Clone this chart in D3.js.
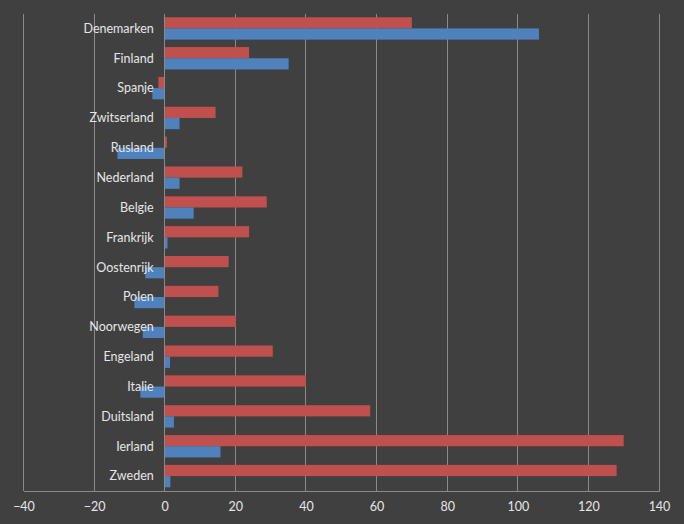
<!DOCTYPE html>
<html>
<head>
<meta charset="utf-8">
<script src="https://cdn.jsdelivr.net/npm/d3@7"></script>
<style>
  html, body { margin: 0; padding: 0; background: #404040; overflow: hidden; }
  #chart { width: 684px; height: 524px; }
  #chart svg { display: block; }
</style>
</head>
<body>
<div id="chart"></div>
<script>
// Landen, van boven naar beneden
const landen = ['Denemarken', 'Finland', 'Spanje', 'Zwitserland', 'Rusland', 'Nederland', 'Belgie',
    'Frankrijk', 'Oostenrijk', 'Polen', 'Noorwegen', 'Engeland', 'Italie', 'Duitsland', 'Ierland', 'Zweden'];
// Rode reeks (boven) en blauwe reeks (onder)
const reeksRood = [70, 23.9, -1.8, 14.4, 0.6, 22, 28.9, 23.9, 18.1, 15.2, 20.2, 30.6, 40, 58.2, 130, 128];
const reeksBlauw = [106, 35.1, -3.5, 4.2, -13.4, 4.2, 8.2, 0.8, -5.5, -8.6, -6.2, 1.5, -6.9, 2.6, 15.8, 1.6];
const xTicks = [-40, -20, 0, 20, 40, 60, 80, 100, 120, 140];

const width = 684, height = 524;
const margin = { top: 13.5, right: 25, bottom: 33, left: 23.5 };
const innerWidth = width - margin.left - margin.right;
const innerHeight = height - margin.top - margin.bottom;

const svg = d3.select('#chart')
    .append('svg')
    .attr('width', width)
    .attr('height', height);

svg.append('rect')
    .attr('width', width)
    .attr('height', height)
    .attr('fill', '#404040');

const g = svg.append('g')
    .attr('transform', `translate(${margin.left},${margin.top})`);

// Schalen
const x = d3.scaleLinear()
    .domain([-40, 140])
    .range([0, innerWidth]);

const y = d3.scaleBand()
    .domain(landen)
    .range([0, innerHeight])
    .paddingInner(0.25)
    .paddingOuter(0.125);

const sub = d3.scaleBand()
    .domain(['rood', 'blauw'])
    .range([0, y.bandwidth()]);

// Rasterlijnen
g.selectAll('.grid')
    .data(xTicks)
    .enter()
    .append('line')
    .attr('x1', d => x(d))
    .attr('x2', d => x(d))
    .attr('y1', 0)
    .attr('y2', innerHeight)
    .attr('stroke', '#8a8a8a')
    .attr('stroke-width', 1)
    .attr('shape-rendering', 'crispEdges');

// Balken
const series = [
    { key: 'rood', values: reeksRood, color: '#c0504d' },
    { key: 'blauw', values: reeksBlauw, color: '#4f81bd' }
];

series.forEach(s => {
    g.selectAll('.bar-' + s.key)
        .data(landen)
        .enter()
        .append('rect')
        .attr('class', 'bar-' + s.key)
        .attr('x', (d, i) => x(Math.min(0, s.values[i])))
        .attr('y', d => y(d) + sub(s.key))
        .attr('width', (d, i) => Math.abs(x(s.values[i]) - x(0)))
        .attr('height', sub.bandwidth())
        .attr('fill', s.color);
});

// Verticale as bij nul
g.append('line')
    .attr('x1', x(0))
    .attr('x2', x(0))
    .attr('y1', 0)
    .attr('y2', innerHeight)
    .attr('stroke', '#8a8a8a')
    .attr('shape-rendering', 'crispEdges');

// Categorielabels
g.selectAll('.label')
    .data(landen)
    .enter()
    .append('text')
    .attr('x', x(0) - 11)
    .attr('y', d => y(d) + y.bandwidth() / 2)
    .attr('dy', '0.35em')
    .attr('text-anchor', 'end')
    .attr('fill', '#e6e6e6')
    .style('font-family', 'Lato, "Open Sans", sans-serif')
    .style('font-size', '12.5px')
    .text(d => d);

// X-as
const xAxis = d3.axisBottom(x)
    .tickValues(xTicks)
    .tickSize(0)
    .tickPadding(11);

const ax = g.append('g')
    .attr('transform', `translate(0,${innerHeight})`)
    .call(xAxis);

ax.select('.domain')
    .attr('stroke', '#8a8a8a')
    .attr('shape-rendering', 'crispEdges');

ax.selectAll('text')
    .attr('fill', '#e6e6e6')
    .style('font-family', 'Lato, "Open Sans", sans-serif')
    .style('font-size', '12.5px');
</script>
</body>
</html>
